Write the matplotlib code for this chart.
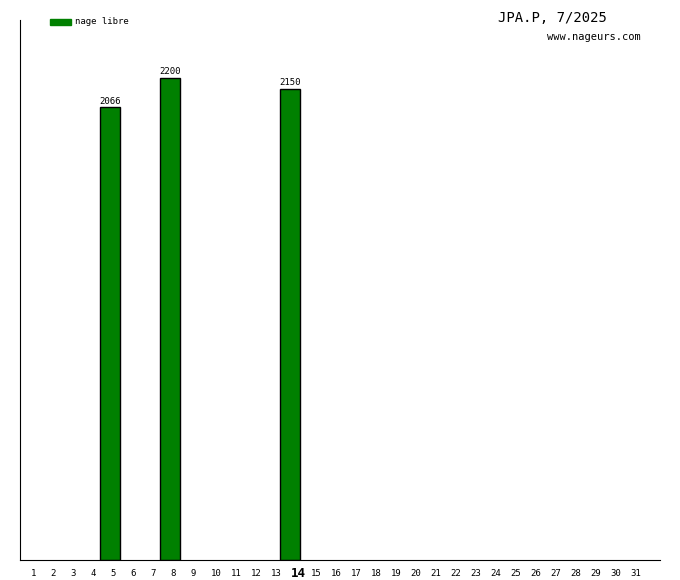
import matplotlib
matplotlib.use("Agg")
import matplotlib.pyplot as plt
from matplotlib.transforms import ScaledTranslation

plt.rcParams["font.family"] = "DejaVu Sans Mono"

days = list(range(1, 32))
bar_days = [5, 8, 14]
bar_values = [2066, 2200, 2150]
highlight_day = 14
series_label = "nage libre"
title = "JPA.P, 7/2025"
site = "www.nageurs.com"

fig = plt.figure(figsize=(6.8, 5.8), dpi=100)
ax = fig.add_axes([20 / 680, 20 / 580, 640 / 680, 540 / 580])

ax.bar(bar_days, bar_values, width=1.0, color="#008000", edgecolor="black", linewidth=1)
for d, v in zip(bar_days, bar_values):
    ax.annotate(str(v), (d, v), xytext=(0, 1), textcoords="offset points",
                ha="center", va="bottom", fontsize=6.5)

ax.set_xlim(0.5, 32.5)
ax.set_ylim(0, max(bar_values) * 1.12)
ax.spines["top"].set_visible(False)
ax.spines["right"].set_visible(False)
ax.set_yticks([])
ax.set_xticks(days)
ax.set_xticklabels([str(d) for d in days], fontsize=6.5)
ax.tick_params(axis="x", length=0, pad=10)
shift = ScaledTranslation(0.5 / 100, 0, fig.dpi_scale_trans)
for lbl, d in zip(ax.get_xticklabels(), days):
    lbl.set_va("center")
    lbl.set_ha("left")
    lbl.set_transform(lbl.get_transform() + shift)
    if d == highlight_day:
        lbl.set_fontsize(9)
        lbl.set_fontweight("bold")

fig.text(552 / 680, 1 - 18 / 580, title, ha="center", va="center", fontsize=10)
fig.text(594 / 680, 1 - 37 / 580, site, ha="center", va="center", fontsize=7.5)

fig.patches.append(plt.Rectangle((50 / 680, 1 - 25 / 580), 21 / 680, 6 / 580,
                                 transform=fig.transFigure, color="#008000"))
fig.text(75 / 680, 1 - 22 / 580, series_label, ha="left", va="center", fontsize=6.5)

fig.savefig("out.png", dpi=100)
